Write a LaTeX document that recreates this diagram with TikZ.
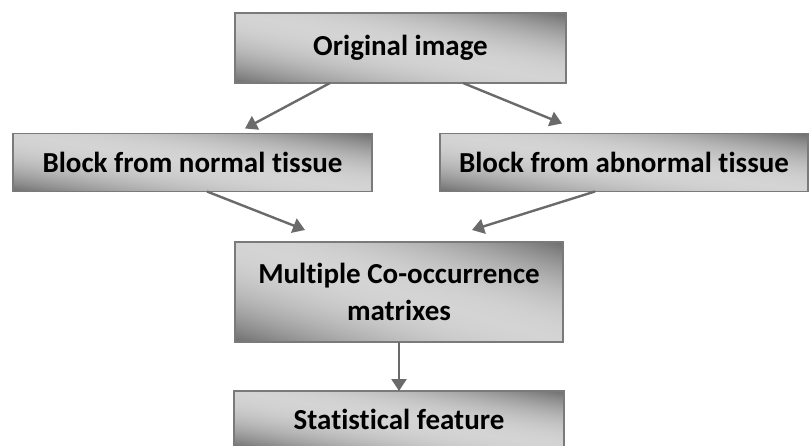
\documentclass[tikz,border=0pt]{standalone}
\usepackage{fontspec}
\setmainfont{Carlito}[Ligatures={NoCommon,NoRequired}]
\usepackage{tikz}
\usetikzlibrary{positioning,arrows.meta}

\definecolor{linkgray}{HTML}{6A6A6A}
% dark in the lower left and upper right corners, light band between
\pgfdeclarefunctionalshading{boxshade}{\pgfpointorigin}{\pgfpoint{100bp}{100bp}}{}{
    add 100 sub 50 div dup mul 0.40 mul 0.83 exch sub dup dup}

\begin{document}
\begin{tikzpicture}[x=1pt,y=-1pt]
    \useasboundingbox (0,0) rectangle (810,446);
    %%%%% THE BOXES
    \begin{scope}[every node/.style={shape=rectangle,draw=black!52,line width=1.8pt,
        shading=boxshade,
        font=\fontsize{29}{37}\selectfont\bfseries,align=center,inner sep=0pt,outer sep=0pt}]
      \node[minimum width=331pt,minimum height=70pt] (orig) at (400.5,48) {Original image};
      \node[minimum width=359pt,minimum height=58pt] (normal) at (192.5,162.5) {Block from normal tissue};
      \node[minimum width=368pt,minimum height=58pt] (abnormal) at (624,162.5) {Block from abnormal tissue};
      \node[minimum width=328pt,minimum height=100pt] (cooc) at (399,292) {Multiple Co-occurrence\\matrixes};
      \node[minimum width=330pt,minimum height=57pt,below=49pt of cooc] (stat) {Statistical feature};
    \end{scope}
    %%%%% THE LINKS
    \begin{scope}[->,>={Triangle[length=12pt,width=15pt]},draw=linkgray,line width=2.4pt]
      \draw ([xshift=-70.5pt]orig.south) -- ([xshift=52.5pt,yshift=5pt]normal.north);
      \draw ([xshift=62.5pt]orig.south) -- ([xshift=-62pt,yshift=10pt]abnormal.north);
      \draw ([xshift=14.5pt]normal.south) -- ([xshift=-94pt,yshift=12pt]cooc.north);
      \draw ([xshift=-29pt]abnormal.south) -- ([xshift=73pt,yshift=12pt]cooc.north);
      \draw (cooc.south) -- (stat.north);
    \end{scope}
\end{tikzpicture}
\end{document}
